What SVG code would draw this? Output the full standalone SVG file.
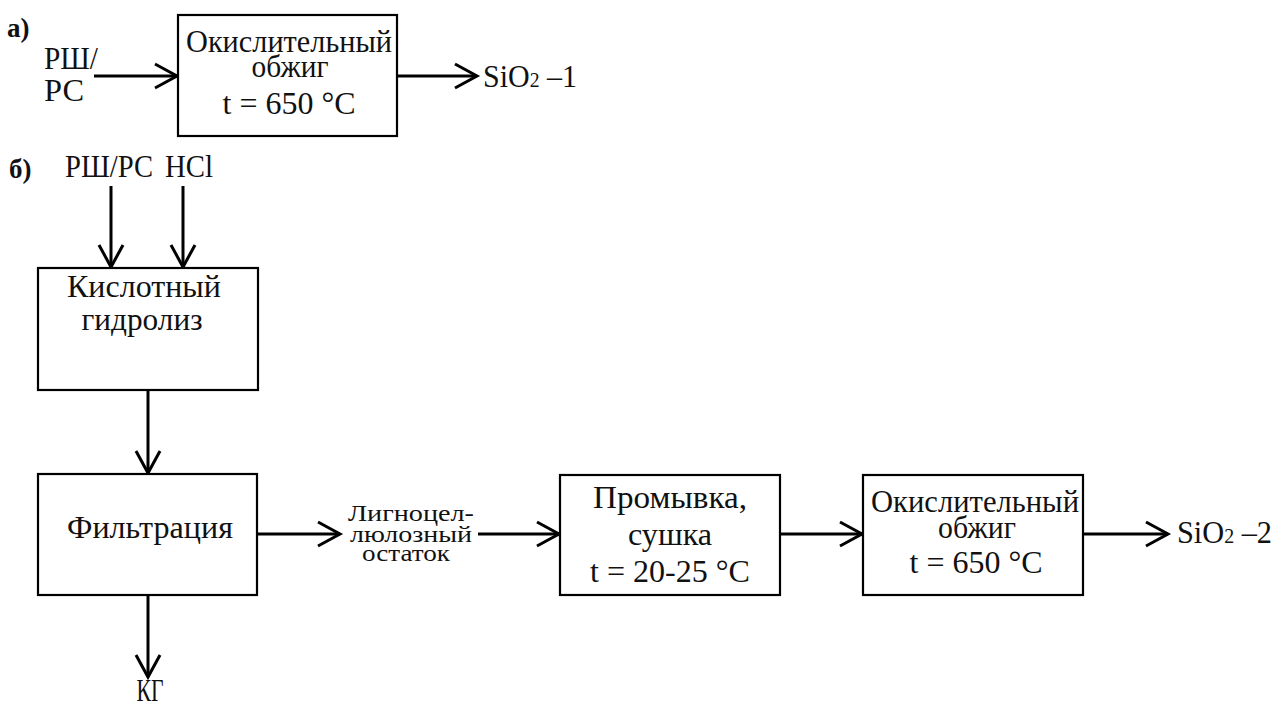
<svg xmlns="http://www.w3.org/2000/svg" width="1276" height="706" viewBox="0 0 1276 706">
<defs>
<marker id="arr" markerUnits="userSpaceOnUse" viewBox="-26 -16 30 32" refX="0" refY="0" markerWidth="30" markerHeight="32" orient="auto">
<path d="M-22,-12 L0,0 L-22,12" fill="none" stroke="#000" stroke-width="3" stroke-linejoin="miter"/>
</marker>
</defs>
<style>
.box{fill:#fff;stroke:#000;stroke-width:2.2}
.t{font-family:"Liberation Serif","Times New Roman",serif;font-size:32px;fill:#111;text-anchor:middle}
.l{font-family:"Liberation Serif","Times New Roman",serif;font-size:32px;fill:#111}
.s{font-family:"Liberation Serif","Times New Roman",serif;font-size:24px;fill:#111;text-anchor:middle}
.b{font-family:"Liberation Serif","Times New Roman",serif;font-size:27px;font-weight:bold;fill:#111}
.c{fill:none;stroke:#000;stroke-width:3;marker-end:url(#arr)}
</style>
<rect width="1276" height="706" fill="#fff"/>
<text class="b" x="7" y="37">а)</text>
<text class="b" x="9" y="178">б)</text>

<g id="connectors">
<line class="c" x1="94" y1="76" x2="177" y2="76"/>
<line class="c" x1="397" y1="76" x2="477" y2="76"/>
<line class="c" x1="111" y1="186" x2="111" y2="267"/>
<line class="c" x1="183" y1="186" x2="183" y2="267"/>
<line class="c" x1="148" y1="390" x2="148" y2="473"/>
<line class="c" x1="148" y1="595" x2="148" y2="677"/>
<line class="c" x1="257" y1="534" x2="340" y2="534"/>
<line class="c" x1="478" y1="534" x2="559" y2="534"/>
<line class="c" x1="780" y1="534" x2="862" y2="534"/>
<line class="c" x1="1083" y1="534" x2="1168" y2="534"/>
</g>

<g id="input-a">
<text class="l" x="44" y="69" textLength="54" lengthAdjust="spacingAndGlyphs">РШ/</text>
<text class="l" x="44" y="101" textLength="40" lengthAdjust="spacingAndGlyphs">РС</text>
</g>
<g id="node-a-burn">
<rect class="box" x="178" y="15" width="219" height="121"/>
<text class="t" x="289" y="52" textLength="206" lengthAdjust="spacingAndGlyphs">Окислительный</text>
<text class="t" x="290" y="77" textLength="77" lengthAdjust="spacingAndGlyphs">обжиг</text>
<text class="t" x="289" y="114" textLength="133" lengthAdjust="spacingAndGlyphs">t = 650 °C</text>
</g>
<g id="out-a">
<text class="l" x="483" y="87" textLength="94" lengthAdjust="spacingAndGlyphs">SiO<tspan font-size="21">2</tspan> –1</text>
</g>

<g id="inputs-b">
<text class="l" x="65" y="177" textLength="88" lengthAdjust="spacingAndGlyphs">РШ/РС</text>
<text class="l" x="165" y="177" textLength="48" lengthAdjust="spacingAndGlyphs">HCl</text>
</g>
<g id="node-hydrolysis">
<rect class="box" x="38" y="268" width="220" height="122"/>
<text class="t" x="144" y="297" textLength="154" lengthAdjust="spacingAndGlyphs">Кислотный</text>
<text class="t" x="142" y="330" textLength="121" lengthAdjust="spacingAndGlyphs">гидролиз</text>
</g>
<g id="node-filtration">
<rect class="box" x="38" y="474" width="219" height="121"/>
<text class="t" x="150" y="538" textLength="166" lengthAdjust="spacingAndGlyphs">Фильтрация</text>
</g>
<g id="out-kg">
<text class="t" x="150" y="701" font-size="30" textLength="27" lengthAdjust="spacingAndGlyphs">КГ</text>
</g>
<g id="label-residue">
<text class="s" x="411" y="521" textLength="126" lengthAdjust="spacingAndGlyphs">Лигноцел-</text>
<text class="s" x="411" y="542" textLength="122" lengthAdjust="spacingAndGlyphs">люлозный</text>
<text class="s" x="406" y="561" textLength="88" lengthAdjust="spacingAndGlyphs">остаток</text>
</g>
<g id="node-wash">
<rect class="box" x="560" y="475" width="220" height="120"/>
<text class="t" x="670" y="508" textLength="154" lengthAdjust="spacingAndGlyphs">Промывка,</text>
<text class="t" x="670" y="545" textLength="84" lengthAdjust="spacingAndGlyphs">сушка</text>
<text class="t" x="670" y="582" textLength="160" lengthAdjust="spacingAndGlyphs">t = 20-25 °C</text>
</g>
<g id="node-b-burn">
<rect class="box" x="863" y="475" width="220" height="120"/>
<text class="t" x="975" y="512" textLength="208" lengthAdjust="spacingAndGlyphs">Окислительный</text>
<text class="t" x="977" y="538" textLength="78" lengthAdjust="spacingAndGlyphs">обжиг</text>
<text class="t" x="976" y="573" textLength="133" lengthAdjust="spacingAndGlyphs">t = 650 °C</text>
</g>
<g id="out-b">
<text class="l" x="1177" y="543" textLength="95" lengthAdjust="spacingAndGlyphs">SiO<tspan font-size="21">2</tspan> –2</text>
</g>
</svg>
